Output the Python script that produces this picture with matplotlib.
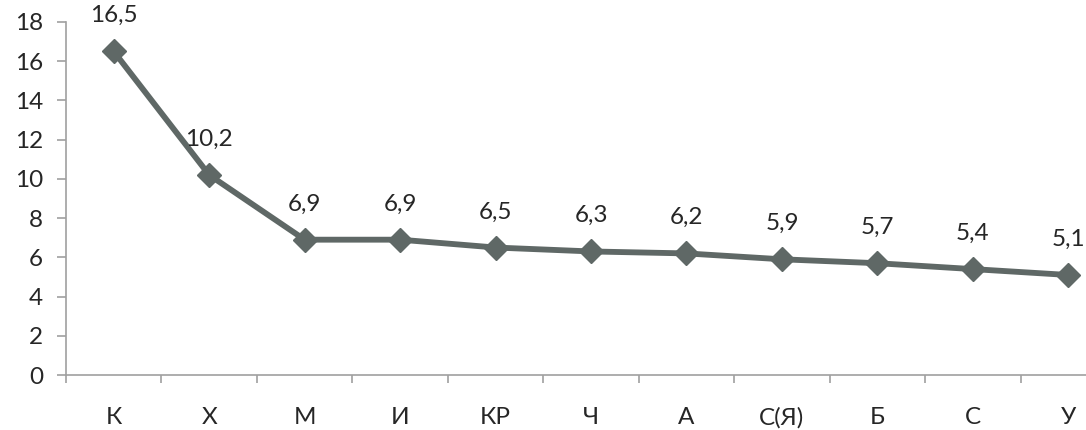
import matplotlib
matplotlib.use("Agg")
import matplotlib.pyplot as plt
import numpy as np

categories = ["К", "Х", "М", "И", "КР", "Ч", "А", "С(Я)", "Б", "С", "У"]
values = [16.5, 10.2, 6.9, 6.9, 6.5, 6.3, 6.2, 5.9, 5.7, 5.4, 5.1]
yticks = [0, 2, 4, 6, 8, 10, 12, 14, 16, 18]

plt.rcParams["font.family"] = ["Lato", "DejaVu Sans"]

W, H = 1086, 430
fig = plt.figure(figsize=(W / 100, H / 100), dpi=100)
left, right = 66, 1116
bottom, top = 375, 22
ax = fig.add_axes([left / W, 1 - bottom / H, (right - left) / W, (bottom - top) / H])

x = np.arange(len(categories))
line_color = "#5f6866"
ax.plot(x, values, color=line_color, lw=4.2, marker="D", ms=12,
        markerfacecolor=line_color, markeredgecolor=line_color, clip_on=False, zorder=3)

for xi, v in zip(x, values):
    ax.annotate(f"{v:.1f}".replace(".", ","), (xi, v), xytext=(0, 21),
                textcoords="offset points", ha="center", va="baseline",
                fontsize=17.5, color="#262626")

ax.set_xlim(-0.5, len(categories) - 0.5)
ax.set_ylim(0, 18)
ax.set_yticks(yticks)
ax.set_yticklabels([str(t) for t in yticks], fontsize=17.5, color="#262626")

ax.set_xticks(x)
ax.set_xticklabels(categories, fontsize=17.5, color="#262626")
ax.set_xticks(np.arange(-0.5, len(categories), 1.0), minor=True)
ax.tick_params(axis="x", which="major", length=0, pad=23)
ax.tick_params(axis="x", which="minor", length=6, width=1.2, color="#a0a0a0", direction="out")
ax.tick_params(axis="y", length=6.5, width=1.2, color="#a0a0a0", direction="out", pad=10)

for s in ["top", "right"]:
    ax.spines[s].set_visible(False)
for s in ["left", "bottom"]:
    ax.spines[s].set_color("#a0a0a0")
    ax.spines[s].set_linewidth(1.2)

fig.savefig("out.png", dpi=100)
